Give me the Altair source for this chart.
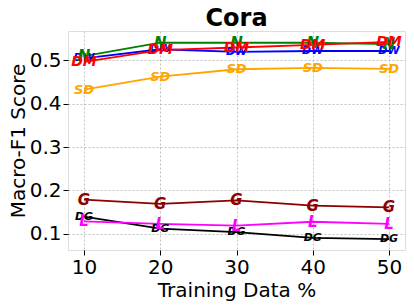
import altair as alt
import pandas as pd

x_vals = [10, 20, 30, 40, 50]
series = ["DG", "L", "G", "SD", "DW", "N", "DM"]
colors = ["#000000", "#ff00ff", "#8b0000", "#ffa500", "#0000ff", "#008000", "#ff0000"]
values = {
    "N":  [0.509, 0.540, 0.540, 0.540, 0.537],
    "DW": [0.504, 0.525, 0.519, 0.521, 0.521],
    "DM": [0.496, 0.523, 0.529, 0.535, 0.542],
    "SD": [0.432, 0.462, 0.479, 0.482, 0.480],
    "G":  [0.179, 0.169, 0.177, 0.165, 0.161],
    "L":  [0.129, 0.123, 0.119, 0.128, 0.123],
    "DG": [0.140, 0.112, 0.104, 0.091, 0.088],
}
label_size = {"N": 15, "DW": 11, "DM": 14, "SD": 13, "G": 15, "L": 15, "DG": 11}

rows = []
for i, s in enumerate(series):
    for x, v in zip(x_vals, values[s]):
        rows.append({"x": x, "y": v, "s": s})
df = pd.DataFrame(rows)

xs = alt.Scale(domain=[7.9, 52.1], nice=False, zero=False)
ys = alt.Scale(domain=[0.063, 0.567], nice=False, zero=False)
cs = alt.Scale(domain=series, range=colors)

common = dict(labelFontSize=20, titleFontSize=20, titleFontWeight="normal", labelColor="black",
              titleColor="black", gridDash=[2, 2], gridColor="#b0b0b0", gridWidth=0.8,
              tickColor="black", tickSize=5, tickWidth=1, domain=False,
              labelFont="DejaVu Sans", titleFont="DejaVu Sans")
xax = alt.Axis(values=x_vals, title="Training Data %", labelPadding=2, titlePadding=3, **common)
yax = alt.Axis(values=[0.1, 0.2, 0.3, 0.4, 0.5], format=".1f", title="Macro-F1 Score",
               labelPadding=2, titlePadding=1, **common)

base = alt.Chart(df)
lines = base.mark_line(strokeWidth=1.8).encode(
    x=alt.X("x:Q", scale=xs, axis=xax),
    y=alt.Y("y:Q", scale=ys, axis=yax),
    color=alt.Color("s:N", scale=cs, legend=None),
    detail="s:N",
    order=alt.Order("x:Q"),
)
layers = [lines]
for s in series:
    layers.append(
        alt.Chart(df[df.s == s]).mark_text(
            fontWeight="bold", fontStyle="italic", font="DejaVu Sans",
            fontSize=label_size[s], baseline="middle", align="center"
        ).encode(
            x=alt.X("x:Q", scale=xs),
            y=alt.Y("y:Q", scale=ys),
            text="s:N",
            color=alt.Color("s:N", scale=cs, legend=None),
        )
    )

chart = alt.layer(*layers).properties(
    width=337, height=219,
    title=alt.TitleParams("Cora", fontSize=24, fontWeight="bold", font="DejaVu Sans",
                          color="black", offset=0),
    autosize=alt.AutoSizeParams(type="none"),
    padding={"left": 60, "top": 23, "right": 1, "bottom": 55},
).configure_view(stroke="black", strokeWidth=1.5).configure(background="white")

chart.save("out.html", embed_options={"renderer": "svg", "actions": False})
